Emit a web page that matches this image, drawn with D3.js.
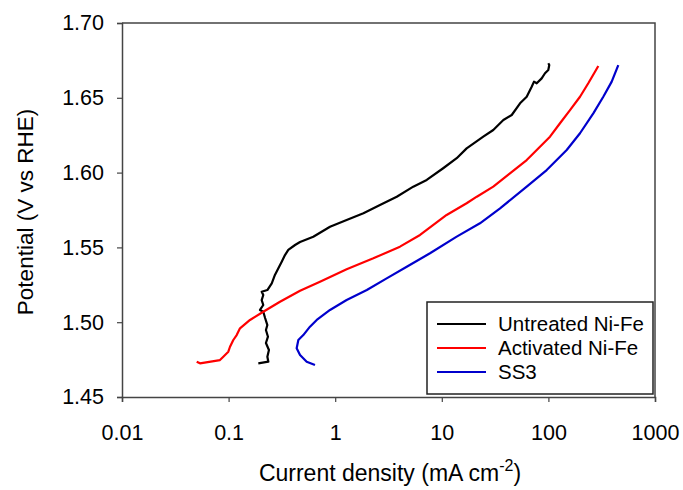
<!DOCTYPE html>
<html>
<head>
<meta charset="utf-8">
<script src="https://cdn.jsdelivr.net/npm/d3@7"></script>
<style>
  body { margin: 0; background: #fff; }
  text { font-family: "Liberation Sans", Arial, sans-serif; fill: #000; }
</style>
</head>
<body>
<div id="chart"></div>
<script>
// chart size
var w = 683;
var h = 490;
var margin = {top: 23, right: 28, bottom: 93, left: 122};

// axis ticks
var xTicks = [0.01, 0.1, 1, 10, 100, 1000];
var xTickLabels = ["0.01", "0.1", "1", "10", "100", "1000"];
var yTicks = [1.45, 1.50, 1.55, 1.60, 1.65, 1.70];

// series names
var seriesNames = ["Untreated Ni-Fe", "Activated Ni-Fe", "SS3"];
var seriesColors = ["#000000", "#ff0000", "#0000cc"];

// Untreated Ni-Fe: current density (mA cm-2) and potential (V vs RHE)
var untreatedJ = [0.190, 0.236, 0.231, 0.239, 0.224, 0.234, 0.224, 0.231, 0.220, 0.2115,
  0.197, 0.2115, 0.2044, 0.2115, 0.2044, 0.231, 0.254, 0.272, 0.293, 0.315,
  0.338, 0.363, 0.420, 0.468, 0.623, 0.894, 1.28, 1.84, 2.63, 3.78,
  5.40, 7.22, 10.3, 13.8, 17.1, 24.5, 30.4, 37.8, 45.3, 54.2,
  62.6, 69.7, 73.3, 77.7, 86.5, 92.9, 99.8, 101.9, 99.8];
var untreatedV = [1.4725, 1.4736, 1.4769, 1.4814, 1.4861, 1.4903, 1.4948, 1.4981, 1.5028, 1.5070,
  1.5082, 1.5115, 1.5148, 1.5182, 1.5204, 1.5215, 1.5260, 1.5316, 1.5360, 1.5404,
  1.5449, 1.5483, 1.5516, 1.5536, 1.5571, 1.5638, 1.5683, 1.5728, 1.5783, 1.5839,
  1.5906, 1.5951, 1.6029, 1.6096, 1.6162, 1.6240, 1.6285, 1.6352, 1.6385, 1.6463,
  1.6507, 1.6574, 1.6608, 1.6597, 1.6630, 1.6664, 1.6686, 1.6719, 1.6731];

// Activated Ni-Fe
var activatedJ = [0.0502, 0.0539, 0.0830, 0.0892, 0.0994, 0.1031, 0.1107, 0.1191, 0.1279, 0.1588,
  0.2115, 0.3035, 0.468, 0.720, 1.28, 2.28, 4.05, 6.25, 11.1, 17.1,
  21.3, 30.4, 43.6, 62.6, 83.4, 103.5, 128.5, 159.5, 197.9, 236.7,
  273.6, 293.9];
var activatedV = [1.4736, 1.4725, 1.4747, 1.4769, 1.4803, 1.4836, 1.4881, 1.4914, 1.4959, 1.5015,
  1.5070, 1.5137, 1.5210, 1.5271, 1.5354, 1.5427, 1.5505, 1.5583, 1.5717, 1.5795,
  1.5839, 1.5906, 1.5995, 1.6084, 1.6173, 1.6240, 1.6330, 1.6418, 1.6507, 1.6597,
  1.6674, 1.6713];

// SS3
var ss3J = [0.646, 0.540, 0.468, 0.435, 0.451, 0.502, 0.580, 0.671, 0.894, 1.28,
  1.98, 3.04, 4.69, 7.75, 13.8, 22.8, 35.2, 62.6, 96.4, 148.5,
  197.9, 263.8, 327.3, 392.6, 452.6];
var ss3V = [1.4714, 1.4736, 1.4781, 1.4826, 1.4881, 1.4914, 1.4970, 1.5015, 1.5082, 1.5148,
  1.5215, 1.5293, 1.5371, 1.5461, 1.5572, 1.5661, 1.5761, 1.5906, 1.6017, 1.6151,
  1.6263, 1.6396, 1.6507, 1.6608, 1.6719];

var series = [
  d3.zip(untreatedJ, untreatedV),
  d3.zip(activatedJ, activatedV),
  d3.zip(ss3J, ss3V)
];

var xScale = d3.scaleLog()
    .domain([0.01, 1000])
    .range([margin.left, w - margin.right]);

var yScale = d3.scaleLinear()
    .domain([1.45, 1.70])
    .range([h - margin.bottom, margin.top]);

var svg = d3.select("#chart")
  .append("svg")
    .attr("width", w)
    .attr("height", h);

// frame (top and right)
svg.append("path")
    .attr("d", "M" + margin.left + "," + margin.top + "H" + (w - margin.right) + "V" + (h - margin.bottom))
    .attr("fill", "none")
    .attr("stroke", "#444")
    .attr("stroke-width", 1.5);

// x axis
var xAxis = svg.append("g")
    .attr("transform", "translate(0," + (h - margin.bottom) + ")")
    .call(d3.axisBottom(xScale)
      .tickValues(xTicks)
      .tickFormat(function(d, i) { return xTickLabels[i]; })
      .tickSizeOuter(0)
      .tickSize(5)
      .tickPadding(23));

// y axis
var yAxis = svg.append("g")
    .attr("transform", "translate(" + margin.left + ",0)")
    .call(d3.axisLeft(yScale)
      .tickValues(yTicks)
      .tickFormat(d3.format(".2f"))
      .tickSizeOuter(0)
      .tickSize(5)
      .tickPadding(13));

[xAxis, yAxis].forEach(function(ax) {
  ax.select(".domain").attr("stroke", "#444").attr("stroke-width", 1.5);
  ax.selectAll(".tick line").attr("stroke", "#444").attr("stroke-width", 1.2);
  ax.selectAll(".tick text")
    .attr("fill", "#000")
    .style("font-size", "21.5px")
    .style("font-family", "'Liberation Sans', Arial, sans-serif");
});

// curves
var line = d3.line()
    .x(function(d) { return xScale(d[0]); })
    .y(function(d) { return yScale(d[1]); });

svg.selectAll("path.curve")
  .data(series)
  .enter()
  .append("path")
    .attr("class", "curve")
    .attr("d", line)
    .attr("fill", "none")
    .attr("stroke", function(d, i) { return seriesColors[i]; })
    .attr("stroke-width", 2.2)
    .attr("stroke-linejoin", "round");

// axis titles
var xTitle = svg.append("text")
    .attr("x", 390)
    .attr("y", 481)
    .attr("text-anchor", "middle")
    .style("font-size", "23px");
xTitle.append("tspan").text("Current density (mA cm");
xTitle.append("tspan").attr("dy", -10).style("font-size", "16px").text("-2");
xTitle.append("tspan").attr("dy", 10).text(")");

svg.append("text")
    .attr("transform", "translate(33," + 212 + ") rotate(-90)")
    .attr("text-anchor", "middle")
    .style("font-size", "22.5px")
    .text("Potential (V vs RHE)");

// legend
var legend = svg.append("g");
legend.append("rect")
    .attr("x", 427)
    .attr("y", 302)
    .attr("width", 226)
    .attr("height", 92)
    .attr("fill", "#fff")
    .attr("stroke", "#222")
    .attr("stroke-width", 1.5);

var rows = legend.selectAll("g.row")
  .data(seriesNames)
  .enter()
  .append("g")
    .attr("class", "row")
    .attr("transform", function(d, i) { return "translate(0," + (324 + i * 24) + ")"; });

rows.append("line")
    .attr("x1", 437)
    .attr("x2", 486)
    .attr("stroke", function(d, i) { return seriesColors[i]; })
    .attr("stroke-width", 2);

rows.append("text")
    .attr("x", 498)
    .attr("dy", "0.35em")
    .style("font-size", "20.5px")
    .text(function(d) { return d; });
</script>
</body>
</html>
